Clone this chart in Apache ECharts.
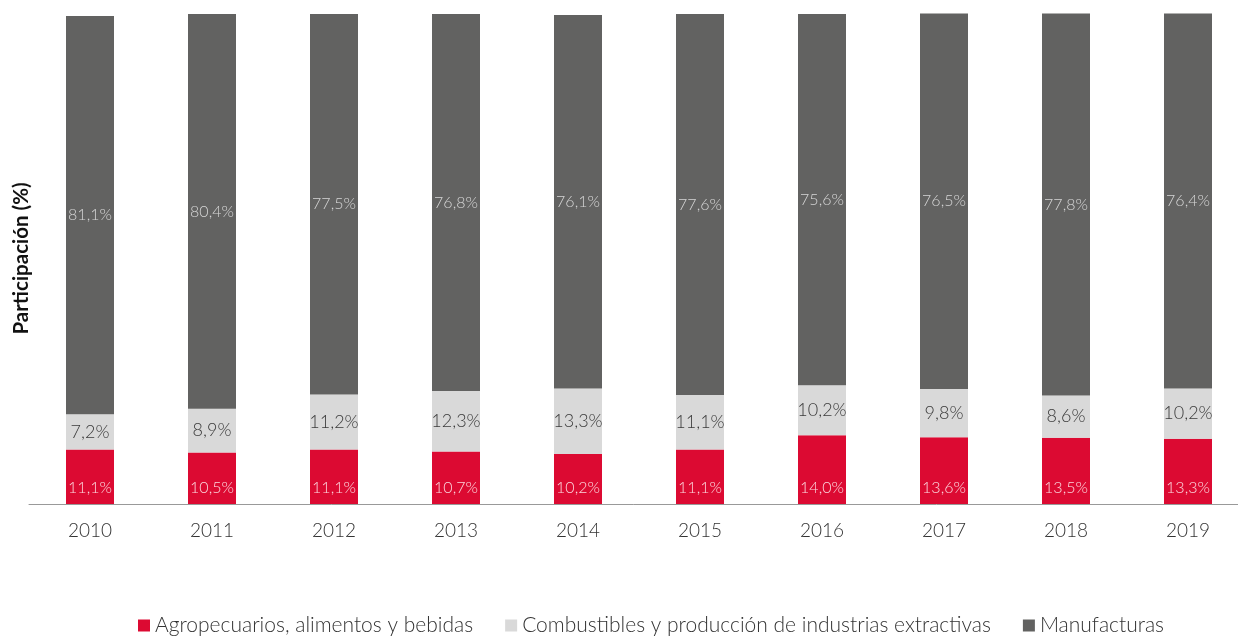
<!DOCTYPE html>
<html><head><meta charset="utf-8">
<script src="https://cdn.jsdelivr.net/npm/echarts@6/dist/echarts.min.js"></script>
<style>html,body{margin:0;padding:0;background:#fff}#c{width:1238px;height:636px}</style>
</head><body><div id="c"></div>
<script>
const years = ['2010','2011','2012','2013','2014','2015','2016','2017','2018','2019'];
const agro = [11.1,10.5,11.1,10.7,10.2,11.1,14.0,13.6,13.5,13.3];
const comb = [7.2,8.9,11.2,12.3,13.3,11.1,10.2,9.8,8.6,10.2];
const manu = [81.1,80.4,77.5,76.8,76.1,77.6,75.6,76.5,77.8,76.4];
const names = ['Agropecuarios, alimentos y bebidas','Combustibles y producción de industrias extractivas','Manufacturas'];
const FONT = 'Lato';
const fmt = p => p.value.toFixed(1).replace('.', ',') + '%';
const chart = echarts.init(document.getElementById('c'));
chart.setOption({
  animation:false,
  textStyle:{fontFamily:FONT},
  grid:{left:29,right:-11,top:13,bottom:132,outerBoundsMode:'none',containLabel:false},
  legend:{top:610,left:133,itemWidth:12,itemHeight:12,itemGap:32,icon:'rect',
    textStyle:{fontFamily:FONT,fontSize:21,fontWeight:300,color:'#333'}},
  xAxis:{type:'category',data:years,
    axisLine:{lineStyle:{color:'#999'}},axisTick:{show:false},
    axisLabel:{fontFamily:FONT,fontSize:19,fontWeight:300,color:'#333',margin:17}},
  yAxis:{type:'value',min:0,max:100,splitLine:{show:false},axisLabel:{show:false},
    axisLine:{show:false},axisTick:{show:false},
    name:'Participación (%)',nameLocation:'middle',nameGap:-3,nameRotate:90,
    nameTextStyle:{fontFamily:FONT,fontSize:20.5,fontWeight:'bold',color:'#111'}},
  series:[
    {name:names[0],type:'bar',stack:'a',data:agro,barWidth:48,itemStyle:{color:'#DC0A32'},
     label:{show:true,position:'insideBottom',distance:8,formatter:fmt,fontFamily:FONT,fontSize:16,fontWeight:300,color:'#fbd6dc'}},
    {name:names[1],type:'bar',stack:'a',data:comb,itemStyle:{color:'#D9D9D9'},
     label:{show:true,position:'inside',formatter:fmt,fontFamily:FONT,fontSize:18,fontWeight:300,color:'#3a3a3a'}},
    {name:names[2],type:'bar',stack:'a',data:manu,itemStyle:{color:'#626261'},
     label:{show:true,position:'inside',formatter:fmt,fontFamily:FONT,fontSize:16,fontWeight:300,color:'#d6d6d6'}}
  ]
});
</script></body></html>
